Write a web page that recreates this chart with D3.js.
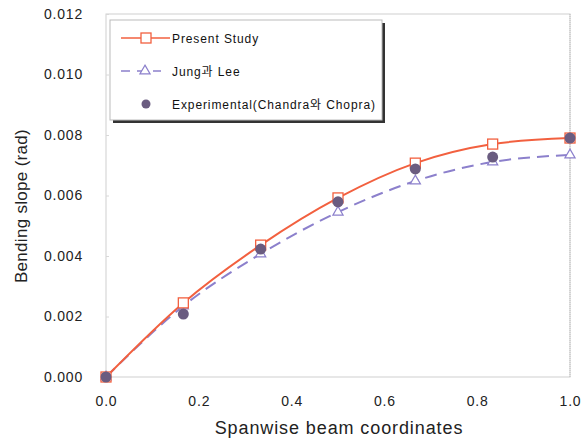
<!DOCTYPE html>
<html>
<head>
<meta charset="utf-8">
<script src="https://cdn.jsdelivr.net/npm/d3@7"></script>
<style>
  html, body { margin: 0; padding: 0; background: #fff; }
  svg { display: block; font-family: Arial, "Liberation Sans", "Noto Sans CJK KR", sans-serif; }
</style>
</head>
<body>
<svg id="chart" width="582" height="442"></svg>
<script>
// Spanwise stations along the beam (normalised)
const xs = [0, 1/6, 2/6, 3/6, 4/6, 5/6, 1];
// Bending slope (rad)
const presentStudy = [0, 0.00245, 0.00436, 0.00592, 0.00707, 0.00770, 0.00790];
const jungLee      = [0, 0.00235, 0.00407, 0.00545, 0.00648, 0.00711, 0.00734];
const experimental = [0, 0.00208, 0.00423, 0.00579, 0.00688, 0.00727, 0.00790];
const xTicks = [0, 0.2, 0.4, 0.6, 0.8, 1.0];
const yTicks = [0, 0.002, 0.004, 0.006, 0.008, 0.010, 0.012];
const legendLabels = ["Present Study", "Jung과 Lee", "Experimental(Chandra와 Chopra)"];

const svg = d3.select("#chart");
const x = d3.scaleLinear().domain([0, 1]).range([106, 570]);
const y = d3.scaleLinear().domain([0, 0.012]).range([377, 14]);

const RED = "#f2603f", LAV = "#8c80cc", DOT = "#6a5c80";

// plot frame
svg.append("rect")
  .attr("x", x(0)).attr("y", y(0.012))
  .attr("width", x(1) - x(0)).attr("height", y(0) - y(0.012))
  .attr("fill", "none").attr("stroke", "#cfcfcf").attr("stroke-width", 1);
svg.append("line")
  .attr("x1", x(1)).attr("x2", x(1)).attr("y1", y(0.012)).attr("y2", y(0))
  .attr("stroke", "#bdbdbd").attr("stroke-dasharray", "1,1");

// y axis
const yAxis = svg.append("g").attr("transform", `translate(${x(0)},0)`)
  .call(d3.axisLeft(y).tickValues(yTicks).tickFormat(d3.format(".3f")).tickSize(-3).tickPadding(23));
yAxis.select(".domain").remove();
yAxis.selectAll(".tick line").attr("stroke", "#d8d8d8");
yAxis.selectAll("text").attr("font-size", 14).attr("fill", "#222").attr("letter-spacing", 0.8);

// x axis
const xAxis = svg.append("g").attr("transform", `translate(0,${y(0)})`)
  .call(d3.axisBottom(x).tickValues(xTicks).tickFormat(d3.format(".1f")).tickSize(0).tickPadding(19));
xAxis.select(".domain").remove();
xAxis.selectAll("text").attr("font-size", 14).attr("fill", "#222").attr("letter-spacing", 0.8);

// axis titles
svg.append("text").attr("x", 339).attr("y", 434).attr("text-anchor", "middle")
  .attr("font-size", 18).attr("fill", "#222").attr("letter-spacing", 0.9).text("Spanwise beam coordinates");
svg.append("text").attr("transform", "translate(27,206) rotate(-90)").attr("text-anchor", "middle")
  .attr("font-size", 17).attr("fill", "#222").attr("letter-spacing", 0.3).text("Bending slope (rad)");

const pts = arr => xs.map((v, i) => [x(v), y(arr[i])]);
const curve = d3.line().curve(d3.curveMonotoneX);

// curves
svg.append("path").attr("d", curve(pts(jungLee)))
  .attr("fill", "none").attr("stroke", LAV).attr("stroke-width", 2).attr("stroke-dasharray", "12,7");
svg.append("path").attr("d", curve(pts(presentStudy)))
  .attr("fill", "none").attr("stroke", RED).attr("stroke-width", 2);

// markers
const tri = d3.symbol().type(d3.symbolTriangle).size(45);
svg.append("g").selectAll("path").data(pts(jungLee)).join("path")
  .attr("d", tri).attr("transform", d => `translate(${d[0]},${d[1]})`)
  .attr("fill", "#fff").attr("stroke", LAV).attr("stroke-width", 1.2);
svg.append("g").selectAll("rect").data(pts(presentStudy)).join("rect")
  .attr("x", d => d[0] - 5).attr("y", d => d[1] - 5).attr("width", 10).attr("height", 10)
  .attr("fill", "#fff").attr("stroke", RED).attr("stroke-width", 1.3);
svg.append("g").selectAll("circle").data(pts(experimental)).join("circle")
  .attr("cx", d => d[0]).attr("cy", d => d[1]).attr("r", 5.5)
  .attr("fill", DOT);

// legend
const lg = svg.append("g");
lg.append("rect").attr("x", 113).attr("y", 23).attr("width", 272).attr("height", 100).attr("fill", "#333");
lg.append("rect").attr("x", 110).attr("y", 20).attr("width", 272).attr("height", 100)
  .attr("fill", "#fff").attr("stroke", "#bbb").attr("stroke-width", 1);
const rows = [38, 71, 104];
lg.append("line").attr("x1", 121).attr("x2", 170).attr("y1", rows[0]).attr("y2", rows[0]).attr("stroke", RED).attr("stroke-width", 1.5);
lg.append("rect").attr("x", 141).attr("y", rows[0] - 5).attr("width", 10).attr("height", 10)
  .attr("fill", "#fff").attr("stroke", RED).attr("stroke-width", 1.3);
lg.append("line").attr("x1", 121).attr("x2", 161).attr("y1", rows[1]).attr("y2", rows[1]).attr("stroke", LAV).attr("stroke-width", 1.5).attr("stroke-dasharray", "9,7");
lg.append("path").attr("d", tri).attr("transform", `translate(145,${rows[1]})`)
  .attr("fill", "#fff").attr("stroke", LAV).attr("stroke-width", 1.2);
lg.append("circle").attr("cx", 146).attr("cy", rows[2]).attr("r", 4.5).attr("fill", DOT);
lg.selectAll("text.lab").data(legendLabels).join("text").attr("class", "lab")
  .attr("x", 172).attr("y", (d, i) => rows[i] + 4.5)
  .attr("font-size", 12).attr("fill", "#111").attr("letter-spacing", 0.9).text(d => d);
</script>
</body>
</html>
